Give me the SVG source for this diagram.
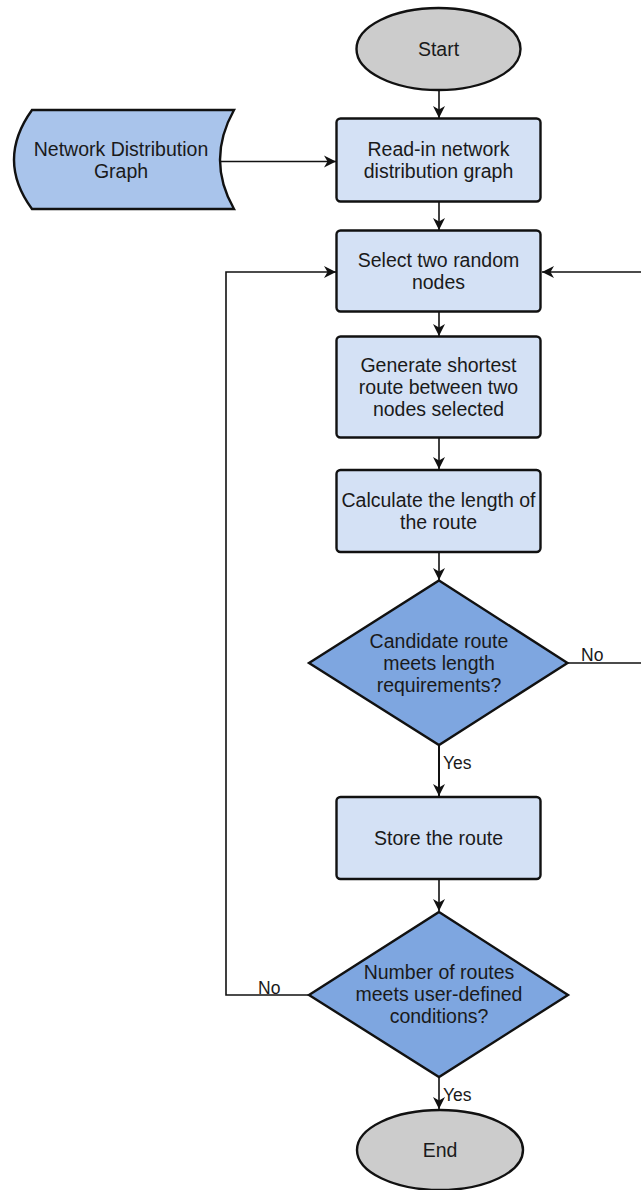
<svg xmlns="http://www.w3.org/2000/svg" width="641" height="1190" viewBox="0 0 641 1190">
<style>
  .t{font-family:"Liberation Sans",Arial,Helvetica,sans-serif;font-size:19.5px;fill:#1a1a1a;text-anchor:middle}
  .lbl{font-family:"Liberation Sans",Arial,Helvetica,sans-serif;font-size:17.5px;fill:#1a1a1a}
  .box{fill:#D4E1F5;stroke:#111;stroke-width:2.4}
  .dia{fill:#7EA6E0;stroke:#111;stroke-width:2.4}
  .term{fill:#CCCCCC;stroke:#111;stroke-width:2.4}
  .data{fill:#A9C4EB;stroke:#111;stroke-width:2.4}
  .c{fill:none;stroke:#111;stroke-width:1.6}
</style>
<defs>
  <marker id="arr" markerUnits="userSpaceOnUse" markerWidth="14" markerHeight="14" viewBox="0 0 14 14" refX="12" refY="7" orient="auto">
    <path d="M0,1 L12,7 L0,13 L3.5,7 Z" fill="#111"/>
  </marker>
</defs>
<g id="connectors">
  <path class="c" d="M439,90 L439,118" marker-end="url(#arr)"/>
  <path class="c" d="M220,161.5 L336,161.5" marker-end="url(#arr)"/>
  <path class="c" d="M439,202 L439,230" marker-end="url(#arr)"/>
  <path class="c" d="M439,312 L439,336" marker-end="url(#arr)"/>
  <path class="c" d="M439,438 L439,469" marker-end="url(#arr)"/>
  <path class="c" d="M439,552 L439,580" marker-end="url(#arr)"/>
  <path class="c" d="M439,745 L439,796" marker-end="url(#arr)" style="stroke-width:2"/>
  <path class="c" d="M567,663 L650,663 L650,272 L542,272" marker-end="url(#arr)"/>
  <path class="c" d="M439,879 L439,911" marker-end="url(#arr)"/>
  <path class="c" d="M309,995 L226,995 L226,272 L336,272" marker-end="url(#arr)"/>
  <path class="c" d="M439,1077 L439,1109" marker-end="url(#arr)"/>
  <text class="lbl" x="581" y="661">No</text>
  <text class="lbl" x="443" y="769">Yes</text>
  <text class="lbl" x="258" y="994">No</text>
  <text class="lbl" x="443" y="1101">Yes</text>
</g>
<g id="start">
  <ellipse class="term" cx="438.5" cy="49" rx="82" ry="41"/>
  <text class="t" x="438.5" y="56">Start</text>
</g>
<g id="network-graph">
  <path class="data" d="M32,110 L234,110 Q206,160 234,209 L32,209 Q-4,160 32,110 Z"/>
  <text class="t" x="121" y="156">Network Distribution</text>
  <text class="t" x="121" y="178">Graph</text>
</g>
<g id="read-in">
  <rect class="box" x="336.5" y="118.5" width="204" height="83" rx="4"/>
  <text class="t" x="438.5" y="156">Read-in network</text>
  <text class="t" x="438.5" y="178">distribution graph</text>
</g>
<g id="select">
  <rect class="box" x="336.5" y="230.5" width="204" height="81" rx="4"/>
  <text class="t" x="438.5" y="267">Select two random</text>
  <text class="t" x="438.5" y="289">nodes</text>
</g>
<g id="generate">
  <rect class="box" x="336.5" y="336.5" width="204" height="101" rx="4"/>
  <text class="t" x="438.5" y="372">Generate shortest</text>
  <text class="t" x="438.5" y="394">route between two</text>
  <text class="t" x="438.5" y="416">nodes selected</text>
</g>
<g id="calculate">
  <rect class="box" x="336.5" y="470" width="204" height="82" rx="4"/>
  <text class="t" x="438.5" y="507">Calculate the length of</text>
  <text class="t" x="438.5" y="529">the route</text>
</g>
<g id="decision-length">
  <polygon class="dia" points="439,580.5 567.5,663 439,745 309,663"/>
  <text class="t" x="439" y="648">Candidate route</text>
  <text class="t" x="439" y="670">meets length</text>
  <text class="t" x="439" y="692">requirements?</text>
</g>
<g id="store">
  <rect class="box" x="336.5" y="797" width="204" height="82" rx="4"/>
  <text class="t" x="438.5" y="845">Store the route</text>
</g>
<g id="decision-count">
  <polygon class="dia" points="439,912 568,995 439,1077 309,995"/>
  <text class="t" x="439" y="979">Number of routes</text>
  <text class="t" x="439" y="1001">meets user-defined</text>
  <text class="t" x="439" y="1023">conditions?</text>
</g>
<g id="end">
  <ellipse class="term" cx="440" cy="1150" rx="83" ry="40"/>
  <text class="t" x="440" y="1157">End</text>
</g>
</svg>
